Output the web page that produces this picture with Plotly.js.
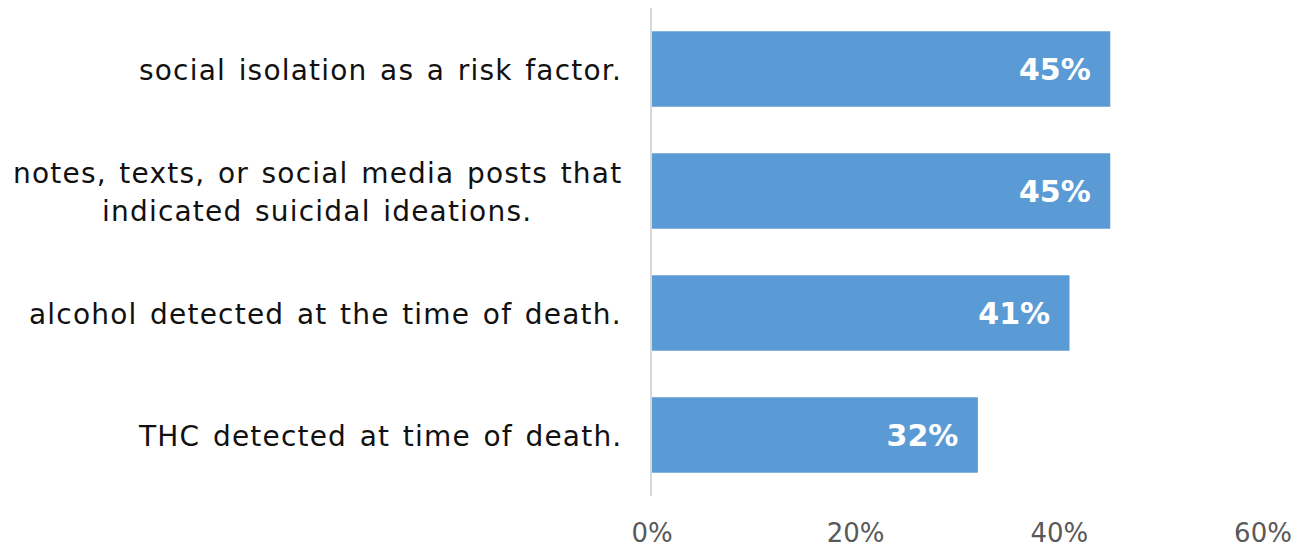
<!DOCTYPE html>
<html>
<head>
<meta charset="utf-8">
<script src="https://cdn.plot.ly/plotly-3.0.1.min.js"></script>
<style>
html,body{margin:0;padding:0;background:#fff;}
#chart{width:1307px;height:548px;}
.annotation-text{letter-spacing:1.2px;word-spacing:2.5px;}
</style>
</head>
<body>
<div id="chart"></div>
<script>
const categories = [
  "social isolation as a risk factor.",
  "notes, texts, or social media posts that<br>indicated suicidal ideations.",
  "alcohol detected at the time of death.",
  "THC detected at time of death."
];
const values = [45, 45, 41, 32];
const tickVals = [0, 20, 40, 60];
const tickText = ["0%", "20%", "40%", "60%"];

const trace = {
  type: 'bar',
  orientation: 'h',
  y: categories,
  x: values,
  marker: {color: '#5B9BD5'},
  width: 0.62,
  text: values.map(v => v + '%\u00a0\u2009'),
  textposition: 'inside',
  insidetextanchor: 'end',
  textangle: 0,
  textfont: {family: 'DejaVu Sans', size: 30, color: '#ffffff', weight: 'bold'},
  hoverinfo: 'none',
  cliponaxis: false
};

const LINE_GAP = 38;
const annotations = [];
categories.forEach(c => {
  const lines = c.split('<br>');
  lines.forEach((ln, i) => {
    annotations.push({
      xref: 'paper', yref: 'y', x: 0, y: c,
      xanchor: 'center', yanchor: 'middle',
      xshift: 0, yshift: ((lines.length - 1) / 2 - i) * LINE_GAP - 1,
      text: ln, showarrow: false,
      font: {family: 'DejaVu Sans', size: 28, color: '#111111'}
    });
  });
});

const layout = {
  width: 1307, height: 548,
  margin: {l: 652, r: 44, t: 8, b: 52},
  paper_bgcolor: '#ffffff', plot_bgcolor: '#ffffff',
  showlegend: false,
  bargap: 0.38,
  xaxis: {
    range: [0, 60], tickvals: tickVals, ticktext: tickText,
    showgrid: false, zeroline: false, showline: false,
    ticks: '', ticklabelstandoff: 19,
    tickfont: {family: 'DejaVu Sans', size: 26, color: '#595959'},
    fixedrange: true
  },
  yaxis: {
    autorange: 'reversed', showticklabels: false,
    showgrid: false, zeroline: false,
    showline: true, linecolor: '#d9d9d9', linewidth: 2,
    ticks: '', fixedrange: true
  },
  annotations: annotations
};

Plotly.newPlot('chart', [trace], layout, {displayModeBar: false, staticPlot: true}).then(gd => {
  // center each label block so its widest line ends 30px left of the plot
  const anns = gd._fullLayout.annotations;
  const nodes = gd.querySelectorAll('.annotation');
  const groups = {};
  anns.forEach((a, i) => {
    (groups[a.y] = groups[a.y] || []).push(i);
  });
  const update = {};
  Object.values(groups).forEach(idx => {
    let maxW = 0;
    idx.forEach(i => {
      const t = nodes[i].querySelector('.annotation-text');
      maxW = Math.max(maxW, t.getBBox().width);
    });
    const center = -30 - maxW / 2;
    idx.forEach(i => { update['annotations[' + i + '].xshift'] = center; });
  });
  return Plotly.relayout(gd, update);
});
</script>
</body>
</html>
